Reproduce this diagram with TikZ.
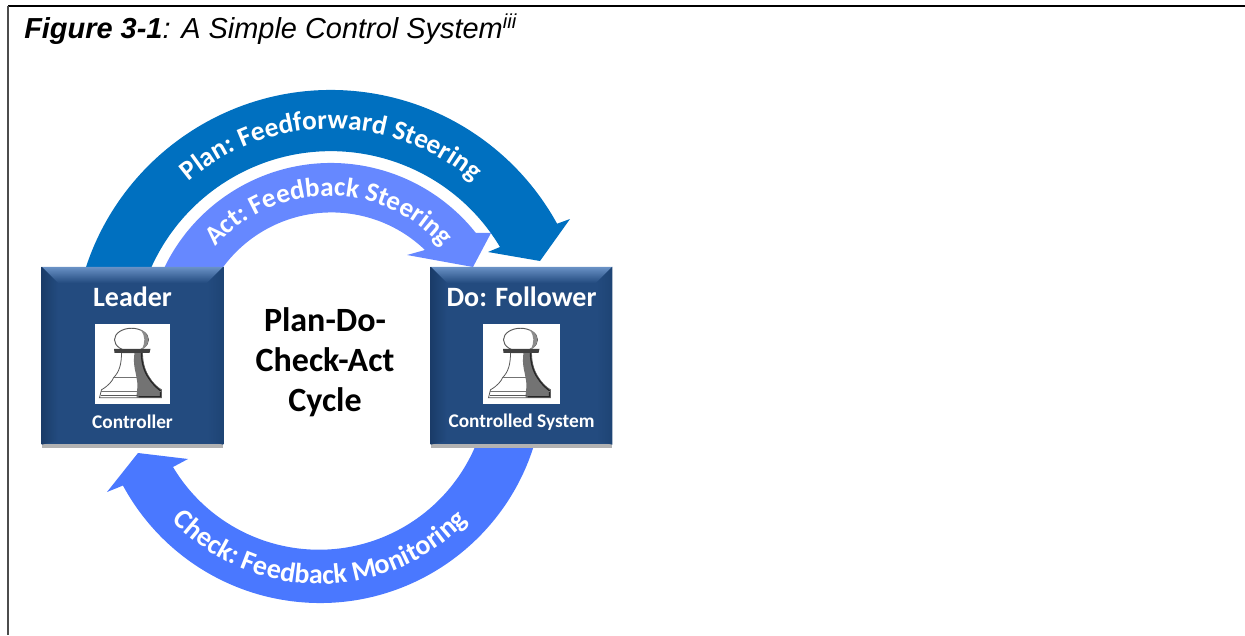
\documentclass[tikz,border=0pt]{standalone}
\usepackage{fontspec}
\setmainfont{Liberation Sans}
\newfontfamily\carlito{Carlito}
\usetikzlibrary{calc,decorations.text,shadows}
\definecolor{planBlue}{HTML}{0070C0}
\definecolor{actBlue}{HTML}{6688FF}
\definecolor{checkBlue}{HTML}{4A78FF}
\definecolor{boxBlue}{HTML}{234B7F}
\definecolor{bevelTop}{HTML}{6A92C6}
\definecolor{bevelLeft}{HTML}{1A3C69}
\definecolor{bevelRight}{HTML}{1E4474}
\tikzset{%
  % Specifications for style of nodes:
     bevelbox/.style = {rectangle, fill=boxBlue, minimum width=135.75pt,
                        minimum height=133pt, inner sep=0pt,
                        drop shadow={shadow xshift=0pt, shadow yshift=-2.5pt,
                                     fill=black!30, opacity=1}},
     boxtitle/.style = {text=white, font=\carlito\bfseries\fontsize{21}{24}\selectfont},
     boxlabel/.style = {text=white, font=\carlito\bfseries\fontsize{14.5}{17}\selectfont},
     pawnback/.style = {rectangle, fill=white, minimum width=56.25pt,
                        minimum height=60pt, inner sep=0pt},
   cycletitle/.style = {align=center, font=\carlito\bfseries\fontsize{25.5}{30}\selectfont},
    pathlabel/.style n args = {2}{decorate, decoration={text along path, text align=center,
                        text={|\carlito\bfseries\fontsize{#1}{24}\selectfont\color{white}|#2}}},
  pics/pawn/.style = {code={
    % body and base
    \draw[black!65, fill=white, line width=.6pt]
      (-33,34) -- (-31,26) .. controls (-24,22) and (-20,17) .. (-19,14)
      .. controls (-13,8) and (-11,0) .. (-11,-11)
      -- (10,-11) .. controls (10,0) and (13,8) .. (17,14)
      .. controls (20,19) and (25,24) .. (29,26) -- (29,34) -- cycle;
    \fill[black!55] (2,-11) .. controls (0,2) and (4,10) .. (4,14)
      .. controls (6,22) and (4,28) .. (4,34) -- (29,34) -- (29,26)
      .. controls (25,24) and (20,19) .. (17,14)
      .. controls (13,8) and (10,0) .. (10,-11) -- cycle;
    \draw[black!85, line width=1pt] (9,-11) .. controls (9,0) and (12,8) .. (16,14)
      .. controls (19,19) and (24,24) .. (28,27) -- (28,33) -- (6,33);
    \draw[black!55] (-32,28) -- (28,28) (-19,14) -- (8,14);
    \draw[black!65, line width=.8pt] (-32,32) -- (5,32);
    % collar and head
    \draw[black!65, fill=white, line width=.7pt] (-1,-24) ellipse (17 and 11.5);
    \fill[black!45] (8,-34) .. controls (17,-31) and (19,-19) .. (9,-14)
      .. controls (13,-21) and (13,-28) .. (8,-34) -- cycle;
    \fill[black!75] (-18.5,-15) -- (18,-15) -- (17,-11) -- (-18,-11) -- cycle;
  }},
}
\begin{document}
\begin{tikzpicture}[x=0.75pt, y=-0.75pt, node distance=291.75pt]
  \useasboundingbox (0,0) rectangle (1245,635);
  % Frame and caption
  \draw[black, line width=1.6pt] (8,6) -- (1245,6);
  \draw[black!70, line width=1pt] (8,6) -- (8,635);
  \node (caption) [anchor=base west, inner sep=0pt, font=\fontsize{21.7}{24}\selectfont\itshape] at (24,39)
    {\textbf{Figure 3-1}: A Simple Control System\textsuperscript{iii}};

  % Block arrows, all about their own centre
  \fill[planBlue] (331,348) ++(190:258) arc[start angle=190, end angle=331.2, radius=258]
    -- (570,219) -- (540,261) -- (488,252) -- (500,247)
    arc[start angle=329.1, end angle=190, radius=197] -- cycle;
  \fill[actBlue] (331,348) ++(195:185) arc[start angle=195, end angle=321.5, radius=185]
    -- (491,233) -- (473,267) -- (407,255) -- (425,250)
    arc[start angle=313.8, end angle=195, radius=135] -- cycle;
  \fill[checkBlue] (320,379) ++(10:224) arc[start angle=10, end angle=151.6, radius=224]
    -- (107,492) -- (138,453) -- (188,459) -- (173,467)
    arc[start angle=149.1, end angle=10, radius=170] -- cycle;

  % Text on the arrows
  \path[pathlabel={20.5}{Plan: Feedforward Steering}]
    (331,348) ++(200:219) arc[start angle=200, end angle=340, radius=219];
  \path[pathlabel={20.3}{Act: Feedback Steering}]
    (329,348) ++(200:152) arc[start angle=200, end angle=340, radius=152];
  \path[pathlabel={21}{Check: Feedback Monitoring}]
    (320,379) ++(160:205) arc[start angle=160, end angle=20, radius=205];

  % Specification of nodes (position, etc.)
  \node (leader) [bevelbox] at (132.5,355.75) {};
  \node (follower) [bevelbox, right of=leader] {};
  \foreach \boxName in {leader,follower} {
    \shade[top color=bevelTop, bottom color=boxBlue]
      (\boxName.north west) -- (\boxName.north east) -- ++(-12pt,-12pt) -- ($(\boxName.north west)+(12pt,-12pt)$) -- cycle;
    \shade[left color=bevelLeft, right color=boxBlue]
      (\boxName.north west) -- ++(12pt,-12pt) -- ($(\boxName.south west)+(12pt,3pt)$) -- (\boxName.south west) -- cycle;
    \shade[left color=boxBlue, right color=bevelRight]
      (\boxName.north east) -- ++(-12pt,-12pt) -- ($(\boxName.south east)+(-12pt,3pt)$) -- (\boxName.south east) -- cycle;
  }
  \node (leaderName) [boxtitle, above of=leader, node distance=44.25pt] {Leader};
  \node (followerName) [boxtitle, above of=follower, node distance=44.25pt] {Do: Follower};
  \node (leaderBack) [pawnback, below of=leader, node distance=6pt] {};
  \node (followerBack) [pawnback, minimum width=57.75pt, below of=follower, node distance=6pt] {};
  \pic at (leaderBack) {pawn};
  \pic at (followerBack) {pawn};
  \node (leaderRole) [boxlabel, below of=leader, node distance=49.5pt] {Controller};
  \node (followerRole) [boxlabel, below of=follower, node distance=49.5pt] {Controlled System};
  \node (cycle) [cycletitle] at (325,362) {Plan-Do-\\Check-Act\\Cycle};
\end{tikzpicture}
\end{document}
